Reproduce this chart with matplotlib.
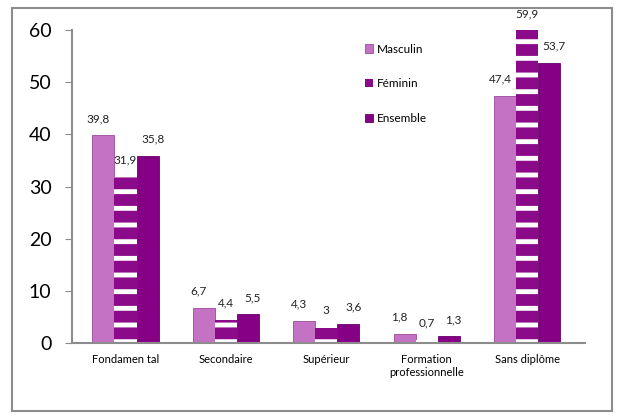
import matplotlib.pyplot as plt
import matplotlib.patches as mpatches
import numpy as np

# Data
categories = ["Fondamen tal", "Secondaire", "Supérieur", "Formation\nprofessionnelle", "Sans diplôme"]
masculin = [39.8, 6.7, 4.3, 1.8, 47.4]
feminin = [31.9, 4.4, 3.0, 0.7, 59.9]
ensemble = [35.8, 5.5, 3.6, 1.3, 53.7]
series_names = ["Masculin", "Féminin", "Ensemble"]

plt.rcParams['font.family'] = ['Lato', 'DejaVu Sans']
plt.rcParams['hatch.linewidth'] = 3.5
plt.rcParams['hatch.color'] = 'white'

fig = plt.figure(figsize=(6.18, 4.16), dpi=100)
ax = fig.add_axes([0.117, 0.175, 0.83, 0.753])

# outer frame
fig.patches.append(mpatches.Rectangle((0.02, 0.012), 0.97, 0.968, transform=fig.transFigure,
                                      fill=False, edgecolor='#8c8c8c', linewidth=1.5))

x = np.arange(len(categories))
w = 0.22
c_m = '#c472c4'
c_f = '#8a0a8a'
c_e = '#860086'

b1 = ax.bar(x - w, masculin, w, color=c_m, edgecolor='#9a4a9a', linewidth=0.6, label=series_names[0])
b2 = ax.bar(x, feminin, w, color=c_f, hatch='-', edgecolor='white', linewidth=0, label=series_names[1])
b3 = ax.bar(x + w, ensemble, w, color=c_e, edgecolor='#6a006a', linewidth=0.6, label=series_names[2])

def fmt(v):
    s = ('%.1f' % v).replace('.', ',')
    if s.endswith(',0'):
        s = s[:-2]
    return s

for bars, vals, dx in [(b1, masculin, -0.05), (b2, feminin, 0.0), (b3, ensemble, 0.05)]:
    for b, v in zip(bars, vals):
        ax.text(b.get_x() + b.get_width() / 2 + dx, v + 2.2, fmt(v), ha='center', va='bottom',
                fontsize=8.5, color='#222222')

ax.set_xlim(-0.53, 4.58)
ax.set_ylim(0, 60)
ax.set_yticks([0, 10, 20, 30, 40, 50, 60])
ax.tick_params(axis='y', labelsize=14, length=5, color='#8c8c8c', pad=10)
ax.set_xticks(x)
ax.set_xticklabels(categories, fontsize=8)
ax.tick_params(axis='x', length=0, pad=8)
for s in ['top', 'right']:
    ax.spines[s].set_visible(False)
ax.spines['left'].set_color('#8c8c8c')
ax.spines['bottom'].set_color('#8c8c8c')
ax.spines['left'].set_linewidth(1.5)
ax.spines['bottom'].set_linewidth(1.5)

leg = ax.legend(loc='upper left', bbox_to_anchor=(0.55, 0.99), frameon=False, fontsize=8.5,
                handlelength=0.7, handleheight=0.7, handletextpad=0.3, labelspacing=2.0)

fig.savefig('out.png', dpi=100)
